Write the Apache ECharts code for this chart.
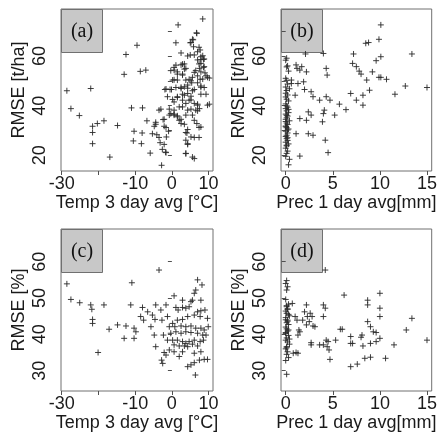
<!DOCTYPE html>
<html><head><meta charset="utf-8">
<script src="https://cdn.jsdelivr.net/npm/echarts@6/dist/echarts.min.js"></script>
<style>html,body{margin:0;padding:0;background:#fff}#c{width:440px;height:440px}</style>
</head><body><div id="c"></div>
<script>
// ---------- data ----------
const panelLabels = ['(a)', '(b)', '(c)', '(d)'];
const xNames = ['Temp 3 day avg [°C]', 'Prec 1 day avg[mm]', 'Temp 3 day avg [°C]', 'Prec 1 day avg[mm]'];
const yNames = ['RMSE [t/ha]', 'RMSE [t/ha]', 'RMSE [%]', 'RMSE [%]'];
const tempTicks = [-30, -20, -10, 0, 10];
const tempTickLabels = [-30, -10, 0, 10];
const precTicks = [0, 5, 10, 15];
const precTickLabels = [0, 5, 10, 15];
const rmseAbsTicks = [20, 30, 40, 50, 60, 70];
const rmseAbsTickLabels = [20, 40, 60];
const rmsePctTicks = [30, 40, 50, 60];
const rmsePctTickLabels = [30, 40, 50, 60];

// (a) temperature vs RMSE [t/ha]
const tempA = [-28.6,-27.5,-25.2,-22.1,-21.6,-21.6,-21.6,-20.3,-18.5,-16.9,-14.8,-13.0,-12.5,-11.0,-10.5,-10.3,-9.5,-8.6,-8.3,-8.0,-7.1,-8.1,-6.8,-5.9,-5.3,-4.8,-4.4,-3.5,-4.1,-3.2,-2.8,-2.6,-2.4,-2.1,-1.9,-1.7,-1.5,-1.2,-0.9,-0.3,-0.5,
 8.4,1.7,6.7,1.1,5.8,5.0,7.4,7.0,2.5,5.0,8.4,7.9,8.8,7.4,8.6,3.4,2.5,0.6,-0.3,3.4,2.9,1.5,6.1,7.0,9.3,10.2,8.4,5.2,5.6,0.6,2.5,4.3,-1.6,7.9,7.9,9.3,5.6,3.4,1.5,0.6,5.2,7.0,10.2,-3.0,-0.7,0.6,1.5,2.5,-2.1,5.2,7.0,-4.4,-1.6,3.4,7.4,3.8,6.1,7.4,-3.5,-2.1,4.3,-1.6,3.8,6.1,
 6.8,5.6,5.2,5.9,7.7,6.1,7.9,8.6,7.0,7.9,8.8,7.5,6.5,7.9,9.0,9.7,7.7,7.0,7.9,8.8,6.1,4.3,2.9,3.8,1.1,0.6,1.5,2.9,0.2,1.5,3.8,4.7,5.4,4.3,3.4,2.5,1.1,-0.1,0.2,1.5,2.9,4.3,5.2,2.9,3.8,4.7,6.1,7.0,7.5,6.5,4.3,2.9,2.0,0.6,-0.7,0.6,1.5,2.0,2.5,3.8,5.6,6.1,6.8,7.9,4.3,4.1,5.2,3.8,4.3,3.8,5.6,9.7];
const rmseA = [46.0,38.8,36.0,46.9,31.7,29.2,24.7,32.8,33.9,19.3,32.0,52.6,60.6,39.1,25.8,29.7,64.3,53.8,24.7,39.1,54.3,29.0,33.9,20.9,28.7,31.7,33.3,38.2,28.3,25.1,16.0,22.4,34.4,31.7,46.5,21.3,27.4,43.6,29.7,36.8,46.5,
 74.9,72.5,69.3,65.3,66.5,65.3,63.5,61.7,61.2,60.4,60.1,58.5,58.8,56.8,55.4,56.8,56.4,55.4,54.1,54.7,52.7,52.7,53.4,52.0,52.0,51.1,50.7,50.0,51.4,50.4,47.4,47.0,46.7,47.4,44.6,44.6,46.0,44.2,43.3,41.5,42.3,40.6,40.6,38.6,38.6,36.6,35.9,34.5,34.5,38.6,37.9,32.5,31.2,32.5,31.2,29.2,27.2,27.2,27.2,24.4,24.4,21.1,20.8,18.7,
 69.1,66.7,65.4,63.7,62.4,60.4,59.7,58.6,58.4,57.0,55.7,55.0,54.1,53.6,53.2,51.4,50.6,49.2,47.9,47.3,46.5,60.0,56.7,55.0,56.3,54.3,53.6,52.3,50.3,50.3,50.3,50.6,49.2,48.3,47.6,46.9,47.3,46.5,42.5,43.6,44.6,44.9,43.8,42.2,40.9,42.2,40.9,40.2,38.8,38.2,38.2,39.5,39.5,38.2,36.2,36.2,35.5,34.1,32.8,36.2,36.2,34.1,32.8,31.4,30.4,29.0,27.4,26.1,24.7,20.7,19.3,40.2];

// (b) precipitation vs RMSE [t/ha]
const precB = [10.1,9.9,8.8,8.5,13.4,10.1,9.6,7.2,4.0,2.1,7.1,7.5,7.8,8.0,8.6,9.2,9.9,10.1,10.7,12.7,15.0,11.6,8.9,6.9,7.5,8.2,8.2,5.7,6.4,4.3,4.4,2.2,1.2,1.5,1.7,2.9,2.7,2.0,1.0,3.6,4.3,4.7,5.2,4.1,4.0,3.9,2.7,2.2,1.5,2.4,1.1,2.4,2.9,4.2,4.5,1.5,1.3,1.9,0.6,0.6,1.1,
 0.1,0.0,0.2,0.1,0.3,0.0,0.1,0.2,0.0,0.4,0.1,0.0,0.2,0.1,0.3,0.0,0.1,0.2,0.0,0.1,0.3,0.0,0.2,0.1,0.0,0.4,0.1,0.2,0.0,0.1,0.3,0.0,0.2,0.1,0.0,0.1,0.2,0.0,0.3,0.1,0.0,0.2,0.1,0.0,0.4,0.3,0.2,0.0,0.1,0.3,0.0,0.2,0.1,0.0];
const rmseB = [72.5,66.7,65.4,65.1,60.8,59.7,58.1,60.8,61.0,60.8,57.0,55.7,53.9,52.7,50.3,53.6,51.4,51.4,50.6,47.9,47.3,44.6,46.2,44.9,42.2,44.2,40.2,40.6,38.4,55.0,52.3,53.6,55.0,54.3,55.7,43.6,45.6,46.5,44.2,42.2,43.6,42.2,36.2,38.2,36.8,33.5,36.2,34.1,34.8,37.5,28.7,28.7,28.1,26.1,21.1,19.7,48.9,49.6,50.3,48.9,56.4,
 59.1,58.3,56.0,55.6,53.9,51.0,50.2,48.7,47.5,46.8,46.1,45.0,44.3,42.6,41.9,40.7,39.9,39.4,38.8,37.9,37.2,36.6,35.8,35.1,34.5,33.9,33.0,32.4,31.8,31.1,30.6,29.7,29.0,28.1,27.6,26.7,26.0,25.3,24.6,23.8,22.9,21.7,20.8,19.6,18.4,16.2,30.2,33.6,36.1,38.5,43.5,27.1,24.1,31.5];

// (c) temperature vs RMSE [%]
const tempC = [-28.6,-27.5,-25.1,-22.1,-21.8,-21.6,-21.6,-18.5,-20.1,-17.1,-14.8,-12.5,-13.0,-11.2,-10.9,-10.3,-10.3,-9.8,-8.5,-8.0,-7.7,-6.6,-5.7,-5.3,-4.6,-4.8,-4.4,-3.5,-4.4,-3.0,-2.7,-2.3,-2.1,-2.8,-2.5,-1.6,-1.2,-0.7,
 0.6,1.1,1.7,2.9,2.9,3.8,4.7,5.2,5.6,6.1,6.5,7.0,8.2,7.9,9.0,7.9,7.0,6.1,7.7,9.7,4.3,2.9,1.5,0.2,0.8,2.5,3.8,5.2,6.5,7.9,8.8,9.9,-0.3,1.1,2.5,3.8,5.2,7.0,8.4,9.3,-1.2,0.2,1.5,2.9,3.8,4.7,6.1,7.7,8.6,0.6,2.0,3.4,4.3,5.6,7.0,7.9,6.1,2.9,-0.7,0.6,7.5,8.8,9.7,4.3,5.2,6.1,6.4,2.0,-1.6];
const rmseC = [53.9,49.6,48.7,48.1,46.9,44.1,43.0,48.1,35.0,41.4,42.6,42.3,38.9,48.1,54.2,41.7,38.9,40.7,44.9,47.4,43.9,46.2,42.1,45.3,44.1,39.8,36.6,57.7,48.1,46.7,43.9,39.8,35.0,32.9,32.0,48.1,44.9,42.1,
 50.6,47.4,46.7,49.4,47.4,47.2,47.6,49.0,49.4,51.3,52.2,55.0,53.6,49.4,46.7,46.5,46.2,45.3,44.9,44.4,44.9,44.1,43.9,43.0,42.1,42.3,42.1,42.3,41.7,41.7,41.2,42.1,40.3,40.7,40.3,40.7,40.5,40.3,39.8,39.8,38.4,38.4,38.4,38.0,37.5,38.0,38.4,38.0,38.4,37.1,36.8,36.8,36.6,37.3,36.8,35.2,34.8,35.2,35.7,35.2,32.9,33.1,33.1,31.1,31.6,32.2,28.8,33.9,34.3];

// (d) precipitation vs RMSE [%]
const precD = [4.2,6.2,10.0,10.0,10.0,8.7,8.7,8.7,9.0,9.3,9.6,10.0,13.4,12.8,15.0,11.5,10.6,9.0,8.4,8.2,8.0,8.1,9.0,9.6,6.9,7.1,6.9,7.6,6.9,6.0,5.8,5.3,4.5,4.3,4.0,3.6,4.4,4.6,4.7,4.0,4.2,4.0,2.2,2.0,2.3,2.6,2.8,2.5,2.9,3.1,2.7,2.7,2.2,1.8,1.2,1.4,1.3,1.5,1.0,0.7,1.3,1.1,0.8,
 0.1,0.0,0.2,0.1,0.0,0.3,0.1,0.2,0.0,0.1,0.4,0.0,0.2,0.1,0.3,0.0,0.1,0.2,0.0,0.3,0.1,0.0,0.2,0.4,0.1,0.0,0.2,0.1,0.3,0.0,0.1,0.2,0.0,0.3,0.4,0.1,0.0,0.2,0.3,0.1];
const rmseD = [57.7,50.8,51.3,47.2,44.9,49.4,48.1,43.5,42.1,40.7,40.5,38.9,44.4,41.2,38.4,37.1,33.4,33.7,33.4,36.8,39.2,39.8,37.5,38.0,39.4,37.5,31.1,31.8,37.5,41.4,41.4,38.4,38.0,38.4,37.1,37.1,36.6,35.7,33.1,48.1,47.2,44.9,48.1,46.2,44.9,45.8,44.9,43.5,42.3,42.1,37.1,37.7,42.6,43.9,43.9,41.2,39.8,40.7,44.9,48.5,34.8,35.0,34.8,
 54.8,54.0,53.1,52.2,49.6,48.3,47.6,47.0,46.4,45.8,45.1,44.6,43.9,43.2,42.7,42.0,41.5,40.9,40.2,39.7,39.0,38.4,37.9,37.3,36.6,36.0,35.2,34.5,33.6,32.8,29.0,46.9,44.0,41.2,38.7,36.3,40.5,43.6,45.5,47.9];

// ---------- layout ----------
const G = [
  {left: 61, top: 9}, {left: 281, top: 9}, {left: 61, top: 229}, {left: 281, top: 229}
];
const GW = 152, GH = 162;
const BOXW = 41, BOXH = 43;
const xDefs = [
  {min: -30.2, max: 11.2, ticks: tempTicks, labels: tempTickLabels},
  {min: -0.5, max: 15.5, ticks: precTicks, labels: precTickLabels},
  {min: -30.2, max: 11.2, ticks: tempTicks, labels: tempTickLabels},
  {min: -0.5, max: 15.5, ticks: precTicks, labels: precTickLabels}
];
const yDefs = [
  {min: 13.7, max: 78.9, ticks: rmseAbsTicks, labels: rmseAbsTickLabels},
  {min: 13.7, max: 78.9, ticks: rmseAbsTicks, labels: rmseAbsTickLabels},
  {min: 24.4, max: 69.0, ticks: rmsePctTicks, labels: rmsePctTickLabels},
  {min: 24.4, max: 69.0, ticks: rmsePctTicks, labels: rmsePctTickLabels}
];
const xs = [tempA, precB, tempC, precD];
const ys = [rmseA, rmseB, rmseC, rmseD];

const FONT = 'Liberation Sans';
const TXT = '#1a1a1a';

const option = {
  animation: false,
  backgroundColor: '#fff',
  grid: G.map(g => ({left: g.left, top: g.top, width: GW, height: GH, show: true,
    borderColor: '#707070', borderWidth: 1, backgroundColor: 'transparent', containLabel: false})),
  xAxis: xDefs.map((d, i) => ({
    gridIndex: i, type: 'value', min: d.min, max: d.max,
    axisLine: {show: false}, splitLine: {show: false},
    axisTick: {show: true, length: 4, lineStyle: {color: '#505050'}, customValues: d.ticks},
    axisLabel: {customValues: d.labels, fontSize: 18, color: TXT, fontFamily: FONT, margin: 4},
    name: xNames[i], nameLocation: 'middle', nameGap: 21,
    nameTextStyle: {fontSize: 18, color: TXT, fontFamily: FONT}
  })),
  yAxis: yDefs.map((d, i) => ({
    gridIndex: i, type: 'value', min: d.min, max: d.max,
    axisLine: {show: false}, splitLine: {show: false},
    axisTick: {show: true, length: 4, lineStyle: {color: '#505050'}, customValues: d.ticks},
    axisLabel: {customValues: d.labels, fontSize: 18, color: TXT, fontFamily: FONT, margin: 12, rotate: 90},
    name: yNames[i], nameLocation: 'middle', nameGap: 33,
    nameTextStyle: {fontSize: 18, color: TXT, fontFamily: FONT}
  })),
  series: xs.map((xv, i) => ({
    type: 'scatter', xAxisIndex: i, yAxisIndex: i,
    data: xv.map((x, k) => [x, ys[i][k]]),
    symbol: 'path://M0,5L10,5M5,0L5,10', symbolSize: 6,
    itemStyle: {color: 'none', borderColor: '#2a2a2a', borderWidth: 1, opacity: 0.9},
    z: 3
  })),
  graphic: G.map((g, i) => ({
    type: 'group', left: g.left, top: g.top, z: 10,
    children: [
      {type: 'rect', shape: {x: 0, y: 0, width: BOXW, height: BOXH},
       style: {fill: '#c8c8c8', stroke: '#707070', lineWidth: 1}},
      {type: 'text', x: BOXW / 2, y: BOXH / 2 + 1,
       style: {text: panelLabels[i], font: '20px "Liberation Serif"',
               fill: '#111', align: 'center', verticalAlign: 'middle'}}
    ]
  }))
};
const chart = echarts.init(document.getElementById('c'), null, {renderer: 'canvas'});
chart.setOption(option);
</script></body></html>
